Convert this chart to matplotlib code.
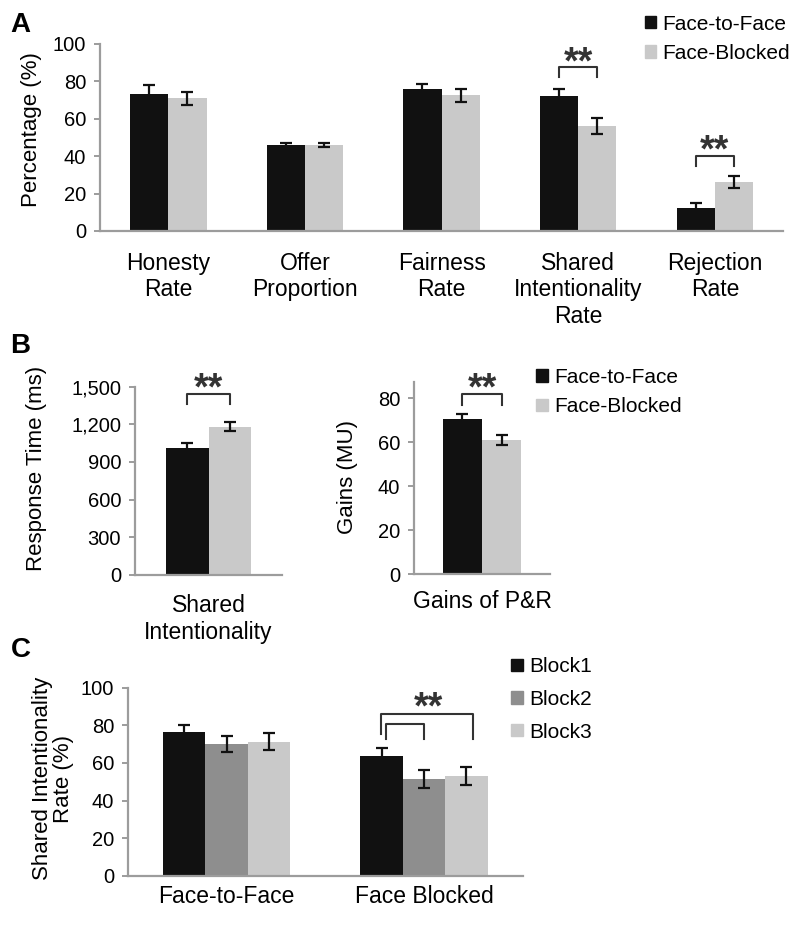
import numpy as np
import matplotlib
matplotlib.use('Agg')
from matplotlib import pyplot as plt
from matplotlib.patches import Patch

plt.rcParams['font.family'] = ['Liberation Sans', 'DejaVu Sans']

#%% data

a_cats = ['Honesty\nRate', 'Offer\nProportion', 'Fairness\nRate',
          'Shared\nIntentionality\nRate', 'Rejection\nRate']
a_ftf = [73.3, 45.8, 75.9, 72.2, 12.1]
a_ftf_err = [5.0, 1.4, 2.9, 3.7, 3.0]
a_fb = [71.0, 46.0, 72.5, 56.0, 26.0]
a_fb_err = [3.4, 1.2, 3.5, 4.2, 3.2]

b_rt_ftf, b_rt_ftf_err = 1010, 40
b_rt_fb, b_rt_fb_err = 1182, 38
b_gain_ftf, b_gain_ftf_err = 70.4, 2.3
b_gain_fb, b_gain_fb_err = 60.9, 2.3

c_cats = ['Face-to-Face', 'Face Blocked']
c_block1 = [76.3, 63.8]
c_block1_err = [4.0, 4.2]
c_block2 = [70.0, 51.5]
c_block2_err = [4.4, 5.0]
c_block3 = [71.2, 53.0]
c_block3_err = [4.5, 5.0]

BLACK = '#111111'
MID = '#8e8e8e'
LIGHT = '#c9c9c9'
SPINE = '#9c9c9c'

#%% helpers

def style_axes(ax, xpad):
    for s in ['top', 'right']:
        ax.spines[s].set_visible(False)
    for s in ['left', 'bottom']:
        ax.spines[s].set_color(SPINE)
        ax.spines[s].set_linewidth(1.6)
    ax.tick_params(axis='y', length=4, width=1.4, color=SPINE, labelsize=14.5, pad=6)
    ax.tick_params(axis='x', length=0, labelsize=16.5, pad=xpad)

def bars(ax, x, vals, errs, width, color):
    ax.bar(x, vals, width=width, color=color, edgecolor='none', zorder=2)
    ax.errorbar(x, vals, yerr=errs, fmt='none', ecolor=BLACK, elinewidth=1.6,
                capsize=4.5, capthick=1.6, zorder=3)

def bracket(ax, x1, x2, y_top, y1, y2, stars=True, star_y=None, star_x=None):
    ax.plot([x1, x1, x2, x2], [y1, y_top, y_top, y2], color='#333333', lw=1.5,
            clip_on=False, zorder=4)
    if stars:
        sx = (x1 + x2) / 2 if star_x is None else star_x
        ax.text(sx, star_y, '**', ha='center', va='center', fontsize=27,
                fontweight='bold', color='#333333', clip_on=False)

fig = plt.figure(figsize=(8, 9.25), dpi=100)

#%% panel A
ax_a = fig.add_axes([0.125, 0.7503, 0.854, 0.2022])
w = 0.28
xa = np.arange(len(a_cats))
bars(ax_a, xa - w / 2, a_ftf, a_ftf_err, w, BLACK)
bars(ax_a, xa + w / 2, a_fb, a_fb_err, w, LIGHT)
ax_a.set_xlim(-0.5, len(a_cats) - 0.5)
ax_a.set_ylim(0, 100)
ax_a.set_yticks(range(0, 101, 20))
ax_a.set_xticks(xa)
ax_a.set_xticklabels(a_cats, linespacing=1.2)
style_axes(ax_a, 15)
bracket(ax_a, 3 - w / 2, 3 + w / 2, 87.9, 82.4, 82.4, star_y=89.5)
bracket(ax_a, 4 - w / 2, 4 + w / 2, 40.1, 35.0, 35.0, star_y=42.5)

fig.text(0.04, 0.8595, 'Percentage (%)', rotation=90, ha='center', va='center', fontsize=16)
fig.text(0.013, 0.973, 'A', fontsize=20, fontweight='bold', va='center')
fig.legend(handles=[Patch(color=BLACK, label='Face-to-Face'),
                    Patch(color=LIGHT, label='Face-Blocked')],
           loc='upper left', bbox_to_anchor=(0.788, 1.0), frameon=False,
           fontsize=15, handlelength=0.55, handleheight=0.55, handletextpad=0.3,
           labelspacing=0.5, borderaxespad=0.3)

#%% panel B
w = 0.286
ax_b1 = fig.add_axes([0.16875, 0.3784, 0.18375, 0.2036])
bars(ax_b1, [-w / 2], [b_rt_ftf], [b_rt_ftf_err], w, BLACK)
bars(ax_b1, [w / 2], [b_rt_fb], [b_rt_fb_err], w, LIGHT)
ax_b1.set_xlim(-0.5, 0.5)
ax_b1.set_ylim(0, 1500)
ax_b1.set_yticks(range(0, 1501, 300))
ax_b1.set_yticklabels(['{:,}'.format(v) for v in range(0, 1501, 300)])
ax_b1.set_xticks([0])
ax_b1.set_xticklabels(['Shared\nIntentionality'], linespacing=1.2)
style_axes(ax_b1, 14)
bracket(ax_b1, -w / 2, w / 2, 1438, 1362, 1362, star_y=1478)
fig.text(0.046, 0.494, 'Response Time (ms)', rotation=90, ha='center', va='center', fontsize=16)

w = 0.29
ax_b2 = fig.add_axes([0.5175, 0.3791, 0.17, 0.2082])
bars(ax_b2, [-w / 2], [b_gain_ftf], [b_gain_ftf_err], w, BLACK)
bars(ax_b2, [w / 2], [b_gain_fb], [b_gain_fb_err], w, LIGHT)
ax_b2.set_xlim(-0.5, 0.5)
ax_b2.set_ylim(0, 87.5)
ax_b2.set_yticks(range(0, 81, 20))
ax_b2.set_xticks([0])
ax_b2.set_xticklabels(['Gains of P&R'])
style_axes(ax_b2, 11)
bracket(ax_b2, -w / 2, w / 2, 81.8, 77.0, 77.0, star_y=84.0)
fig.text(0.435, 0.4847, 'Gains (MU)', rotation=90, ha='center', va='center', fontsize=16)

fig.text(0.013, 0.626, 'B', fontsize=20, fontweight='bold', va='center')
fig.legend(handles=[Patch(color=BLACK, label='Face-to-Face'),
                    Patch(color=LIGHT, label='Face-Blocked')],
           loc='upper left', bbox_to_anchor=(0.652, 0.618), frameon=False,
           fontsize=15, handlelength=0.55, handleheight=0.55, handletextpad=0.3,
           labelspacing=0.5, borderaxespad=0.3)

#%% panel C
w = 0.215
ax_c = fig.add_axes([0.16, 0.0533, 0.4934, 0.2032])
xc = np.arange(len(c_cats))
bars(ax_c, xc - w, c_block1, c_block1_err, w, BLACK)
bars(ax_c, xc, c_block2, c_block2_err, w, MID)
bars(ax_c, xc + w, c_block3, c_block3_err, w, LIGHT)
ax_c.set_xlim(-0.5, len(c_cats) - 0.5)
ax_c.set_ylim(0, 100)
ax_c.set_yticks(range(0, 101, 20))
ax_c.set_xticks(xc)
ax_c.set_xticklabels(c_cats)
style_axes(ax_c, 7)
bracket(ax_c, 1 - w - 0.005, 1 + w + 0.035, 86.0, 75.4, 72.9, star_y=89.0, star_x=1.02)
bracket(ax_c, 1 - w + 0.02, 1.0, 80.7, 72.9, 72.9, stars=False)

fig.text(0.066, 0.158, 'Shared Intentionality\nRate (%)', rotation=90, ha='center',
         va='center', fontsize=16, linespacing=1.0)
fig.text(0.013, 0.297, 'C', fontsize=20, fontweight='bold', va='center')
fig.legend(handles=[Patch(color=BLACK, label='Block1'),
                    Patch(color=MID, label='Block2'),
                    Patch(color=LIGHT, label='Block3')],
           loc='upper left', bbox_to_anchor=(0.621, 0.305), frameon=False,
           fontsize=15, handlelength=0.55, handleheight=0.55, handletextpad=0.3,
           labelspacing=0.65, borderaxespad=0.3)

fig.savefig('out.png', dpi=100)
